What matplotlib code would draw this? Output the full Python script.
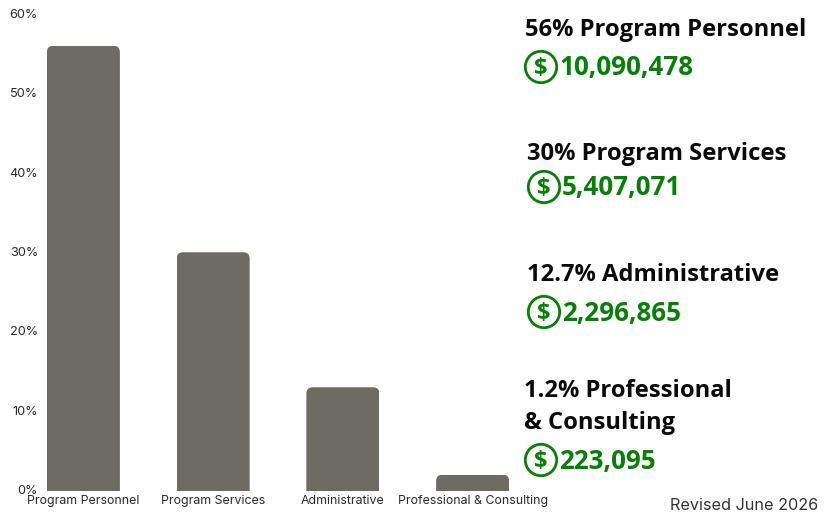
import matplotlib
matplotlib.use("Agg")
import matplotlib.pyplot as plt
from matplotlib.patches import Circle, FancyBboxPatch
from matplotlib.transforms import ScaledTranslation

categories = ["Program Personnel", "Program Services", "Administrative", "Professional & Consulting"]
shares = [56, 30, 13, 2]
y_ticks = [0, 10, 20, 30, 40, 50, 60]
headings = ["56% Program Personnel", "30% Program Services", "12.7% Administrative", "1.2% Professional\n& Consulting"]
amounts = ["10,090,478", "5,407,071", "2,296,865", "223,095"]

BAR_COLOR = "#6e6b62"
GREEN = "#068006"
BOLD_FONT = "Open Sans"
W, H = 825, 512

fig = plt.figure(figsize=(W / 100, H / 100), dpi=100)

# chart axes, y from 0% at 490.5 px to 60% at 14 px
left, right = 18.5, 537.5
ax = fig.add_axes([left / W, (H - 490.5) / H, (right - left) / W, 476.5 / H])
ax.set_xlim(-0.5, 3.5)
ax.set_ylim(0, 60)

bars = ax.bar(range(len(categories)), shares, width=0.563, color=BAR_COLOR, linewidth=0)
for bar in bars:
    # rounded top corners, the rounded box runs below the baseline
    clip = FancyBboxPatch(
        (bar.get_x(), -5),
        bar.get_width(),
        bar.get_height() + 5,
        boxstyle="round,pad=0,rounding_size=0.05",
        mutation_aspect=60 / 476.5 * 519 / 4,
        transform=ax.transData,
        facecolor="none",
        edgecolor="none",
    )
    ax.add_patch(clip)
    bar.set_clip_path(clip)

for side in ax.spines.values():
    side.set_visible(False)

ax.set_yticks(y_ticks)
ax.set_yticklabels([f"{t}%" for t in y_ticks], fontsize=9.2, family="Inter", color="#2a2a2a")
ax.tick_params(axis="y", length=0, pad=-14)
nudge = ScaledTranslation(0, 0.7 / 100, fig.dpi_scale_trans)
for label in ax.get_yticklabels():
    label.set_transform(label.get_transform() + nudge)
ax.set_xticks(range(len(categories)))
ax.set_xticklabels(categories, fontsize=8.9, family="Inter", color="#2a2a2a")
ax.tick_params(axis="x", length=0, pad=3.5)

# overlay in pixel coordinates for the text column
over = fig.add_axes([0, 0, 1, 1])
over.set_xlim(0, W)
over.set_ylim(H, 0)
over.axis("off")

head_pos = [(525, 30), (527, 154), (527, 275), (524, 407)]
icon_pos = [(541, 67), (544, 187), (544, 312), (541, 460)]

for text, amount, (hx, hy), (ix, iy) in zip(headings, amounts, head_pos, icon_pos):
    if "\n" in text:
        line1, line2 = text.split("\n")
        over.text(hx, hy - 16, line1, fontsize=17.1, fontweight="bold", family=BOLD_FONT, color="#0a0a0a", va="center")
        over.text(hx, hy + 16, line2, fontsize=17.1, fontweight="bold", family=BOLD_FONT, color="#0a0a0a", va="center")
    else:
        over.text(hx, hy, text, fontsize=17.1, fontweight="bold", family=BOLD_FONT, color="#0a0a0a", va="center")
    over.add_patch(Circle((ix, iy), 15.7, facecolor="none", edgecolor=GREEN, linewidth=2))
    over.text(ix, iy + 2, "$", fontsize=17, fontweight="bold", family=BOLD_FONT, color=GREEN, ha="center", va="center")
    over.text(ix + 18, iy + 1, amount, fontsize=18.7, fontweight="bold", family=BOLD_FONT, color=GREEN, va="center")

over.text(818, 505, "Revised June 2026", fontsize=11.7, family="Inter", color="#333333", ha="right", va="center")

fig.savefig("out.png", dpi=100)
